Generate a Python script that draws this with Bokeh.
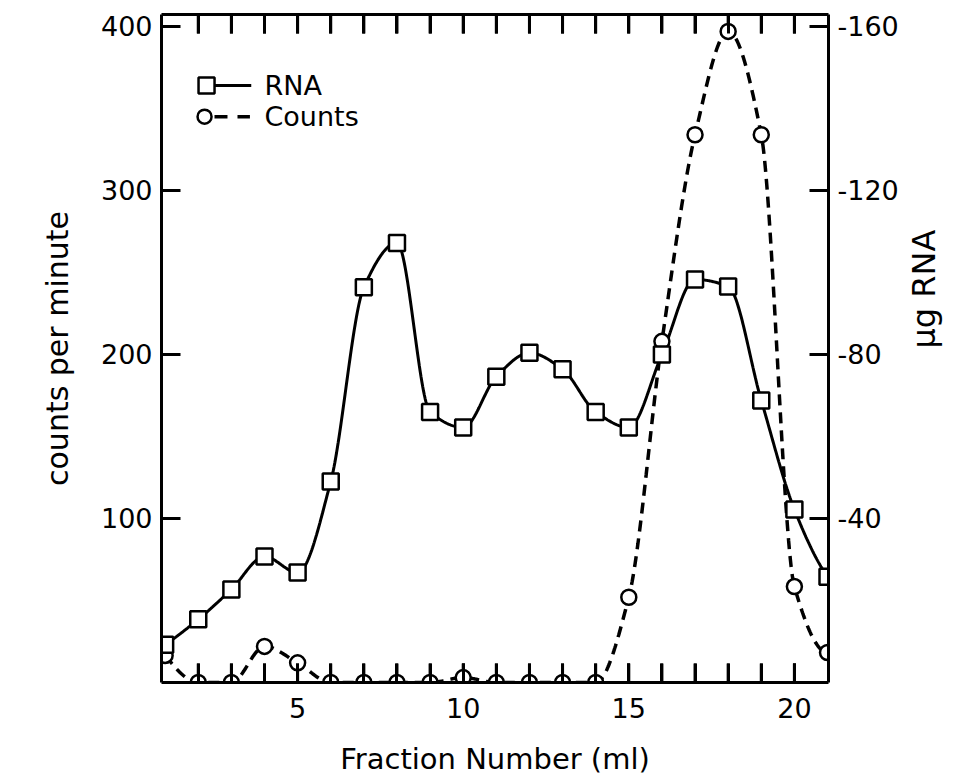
import math
import numpy as np
from bokeh.plotting import figure
from bokeh.models import LinearAxis, Range1d, FixedTicker
from bokeh.core.properties import value
from bokeh.embed import file_html
from bokeh.resources import INLINE

# ---------------- data ----------------
fractions = list(range(1, 22))
rna_ug = [9.2, 15.4, 22.7, 30.7, 26.8, 49.0, 96.4, 107.2, 66.0, 62.2, 74.6,
          80.4, 76.4, 66.0, 62.2, 80.0, 98.3, 96.6, 68.8, 42.2, 25.8]
counts = [16.5, 0, 0, 22, 12, 0, 0, 0, 0, 3, 0, 0, 0, 0, 52, 208, 334, 397,
          334, 58.5, 18.3]
left_ticks = [100, 200, 300, 400]
right_ticks = [40, 80, 120, 160]
right_tick_labels = ["-40", "-80", "-120", "-160"]
x_label_ticks = [5, 10, 15, 20]
x_minor_ticks = list(range(2, 21))

FONT = "DejaVu Sans"
TICK_FS = "27px"
INK = "black"


def pchip(x, y, xs):
    x = np.asarray(x, float)
    y = np.asarray(y, float)
    h = np.diff(x)
    delta = np.diff(y) / h
    n = len(x)
    d = np.zeros(n)
    for k in range(1, n - 1):
        if delta[k - 1] * delta[k] > 0:
            w1 = 2 * h[k] + h[k - 1]
            w2 = h[k] + 2 * h[k - 1]
            d[k] = (w1 + w2) / (w1 / delta[k - 1] + w2 / delta[k])

    def end(h0, h1, d0, d1):
        s = ((2 * h0 + h1) * d0 - h0 * d1) / (h0 + h1)
        if np.sign(s) != np.sign(d0):
            s = 0.0
        elif np.sign(d0) != np.sign(d1) and abs(s) > abs(3 * d0):
            s = 3 * d0
        return s
    d[0] = end(h[0], h[1], delta[0], delta[1])
    d[-1] = end(h[-1], h[-2], delta[-1], delta[-2])
    out = np.empty_like(xs)
    idx = np.clip(np.searchsorted(x, xs) - 1, 0, n - 2)
    for j, (xv, i) in enumerate(zip(xs, idx)):
        t = (xv - x[i]) / h[i]
        h00 = 2 * t**3 - 3 * t**2 + 1
        h10 = t**3 - 2 * t**2 + t
        h01 = -2 * t**3 + 3 * t**2
        h11 = t**3 - t**2
        out[j] = h00 * y[i] + h10 * h[i] * d[i] + h01 * y[i + 1] + h11 * h[i] * d[i + 1]
    return out


xs = np.linspace(fractions[0], fractions[-1], 801)
rna_smooth = pchip(fractions, rna_ug, xs)
counts_smooth = pchip(fractions, counts, xs)

X_MIN, X_MAX = 0.89, 21.03
Y_MAX = 407.3
FRAME_H = 668          # expected frame height in px
p = figure(width=966, height=778,
           x_range=Range1d(X_MIN, X_MAX), y_range=Range1d(0, Y_MAX),
           output_backend="svg", toolbar_location=None,
           min_border_left=161, min_border_right=138,
           min_border_top=14, min_border_bottom=96,
           border_fill_color="white")
p.background_fill_color = None
p.extra_y_ranges = {"rna": Range1d(0, Y_MAX / 2.5)}
p.xgrid.visible = False
p.ygrid.visible = False
p.outline_line_color = None


def style_axis(ax, label_fs):
    ax.axis_line_width = 3
    ax.axis_line_color = INK
    ax.major_tick_in = 19
    ax.major_tick_out = 0
    ax.minor_tick_in = 19
    ax.minor_tick_out = 0
    ax.major_tick_line_width = 3
    ax.minor_tick_line_width = 3
    ax.major_tick_line_color = INK
    ax.minor_tick_line_color = INK
    ax.major_label_text_font = FONT
    ax.major_label_text_font_size = TICK_FS
    ax.major_label_text_color = INK
    ax.axis_label_text_font = FONT
    ax.axis_label_text_font_size = label_fs
    ax.axis_label_text_font_style = "normal"
    ax.axis_label_text_color = INK


# bottom axis
xa = p.xaxis[0]
xa.ticker = FixedTicker(ticks=x_label_ticks, minor_ticks=x_minor_ticks)
style_axis(xa, "29px")
xa.major_label_standoff = 15
xa.axis_label = "Fraction Number (ml)"
xa.axis_label_standoff = 21

# left axis
ya = p.yaxis[0]
ya.ticker = FixedTicker(ticks=left_ticks, minor_ticks=[])
style_axis(ya, "30px")
ya.major_label_standoff = 9
ya.axis_label = "counts per minute"
ya.axis_label_standoff = 23

# top axis (ticks only)
top = LinearAxis(ticker=FixedTicker(ticks=[], minor_ticks=x_minor_ticks),
                 major_label_standoff=0, axis_label_standoff=0)
style_axis(top, "29px")
p.add_layout(top, "above")

# right axis
ra = LinearAxis(y_range_name="rna",
                ticker=FixedTicker(ticks=right_ticks, minor_ticks=[]),
                major_label_overrides=dict(zip(right_ticks, right_tick_labels)),
                major_label_standoff=9,
                axis_label="μg RNA", axis_label_standoff=22)
style_axis(ra, "32px")
try:
    ra.axis_label_orientation = math.pi / 2
except Exception:
    pass
try:
    ra.axis_label_text_align = "center"
except Exception:
    pass
p.add_layout(ra, "right")

# inward tick marks along the bottom and top edges (at the tick positions)
tick_len = 19 * Y_MAX / FRAME_H
n_t = len(x_minor_ticks)
p.segment(x_minor_ticks, [0] * n_t, x_minor_ticks, [tick_len] * n_t,
          line_color=INK, line_width=3)
p.segment(x_minor_ticks, [Y_MAX] * n_t, x_minor_ticks, [Y_MAX - tick_len] * n_t,
          line_color=INK, line_width=3)

# curves
p.line(xs, counts_smooth, line_color=INK, line_width=3.5, line_dash="11 7")
p.line(xs, rna_smooth, line_color=INK, line_width=3, y_range_name="rna")
p.scatter(fractions, counts, marker="circle", size=15, fill_color="white",
          line_color=INK, line_width=2.5)
p.scatter(fractions, rna_ug, marker="square", size=16, fill_color="white",
          line_color=INK, line_width=2.5, y_range_name="rna")

# legend (hand-drawn like the original)
p.scatter([2.25], [364], marker="square", size=16, fill_color="white",
          line_color=INK, line_width=2.5)
p.segment([2.49], [364], [3.6], [364], line_color=INK, line_width=3)
p.text([4.0], [364], text=["RNA"], text_font=value(FONT),
       text_font_size="27px", text_baseline="middle", text_color=INK)
p.scatter([2.19], [345], marker="circle", size=14, fill_color="white",
          line_color=INK, line_width=2.5)
p.segment([2.49], [345], [3.56], [345], line_color=INK, line_width=3.5,
          line_dash="13 10")
p.text([4.0], [345], text=["Counts"], text_font=value(FONT),
       text_font_size="27px", text_baseline="middle", text_color=INK)

open("out.html", "w").write(file_html(p, INLINE))
